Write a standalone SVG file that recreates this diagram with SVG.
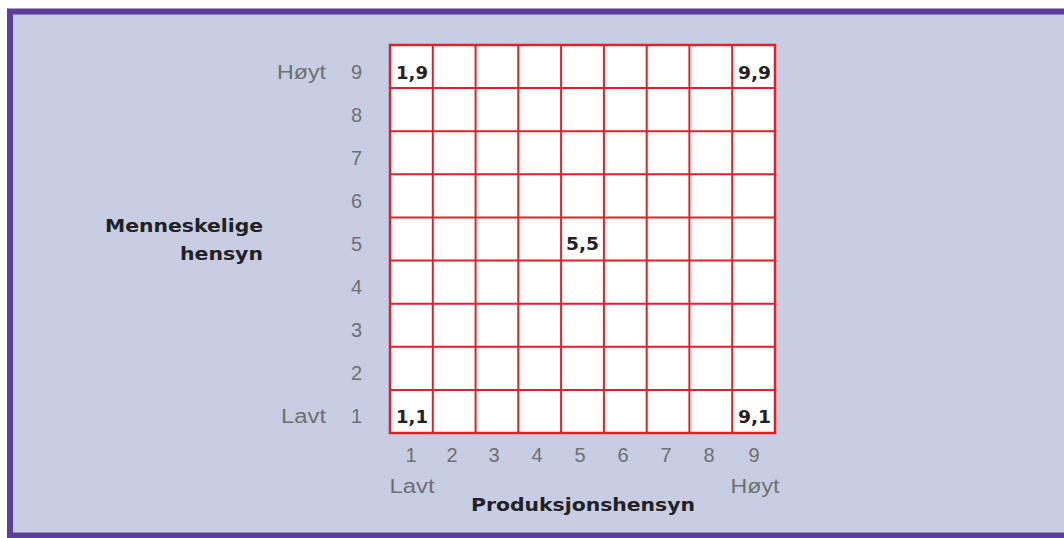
<svg xmlns="http://www.w3.org/2000/svg" width="1064" height="538" viewBox="0 0 1064 538">
<style>
.num{font-family:"Liberation Sans",Arial,sans-serif;font-size:20px;fill:#707070}
.lbl{font-family:"Liberation Sans",Arial,sans-serif;font-size:20px;fill:#707070}
.b{font-family:"DejaVu Sans","Liberation Sans",sans-serif;font-size:18px;font-weight:bold;fill:#222}
.grid{stroke:#e0202a;stroke-width:2;fill:none}
</style>
<rect x="0" y="0" width="1064" height="538" fill="#ffffff"/>
<rect x="10" y="11.5" width="1060" height="524" fill="#c7cde2" stroke="#5c3d9c" stroke-width="6"/>
<g id="grid">
<rect x="390" y="45" width="385" height="388" fill="#ffffff"/>
<g class="grid">
<rect x="390" y="45" width="385" height="388" stroke-width="2.5"/>
<path d="M432.8 45V433M475.6 45V433M518.3 45V433M561.1 45V433M603.9 45V433M646.7 45V433M689.4 45V433M732.2 45V433"/>
<path d="M390 88.1H775M390 131.2H775M390 174.3H775M390 217.4H775M390 260.6H775M390 303.7H775M390 346.8H775M390 389.9H775"/>
</g>
</g>
<g id="cells">
<text class="b" x="396" y="79" textLength="32" lengthAdjust="spacingAndGlyphs">1,9</text>
<text class="b" x="738" y="79" textLength="33" lengthAdjust="spacingAndGlyphs">9,9</text>
<text class="b" x="566" y="250" textLength="33" lengthAdjust="spacingAndGlyphs">5,5</text>
<text class="b" x="396" y="423" textLength="32" lengthAdjust="spacingAndGlyphs">1,1</text>
<text class="b" x="738" y="423" textLength="33" lengthAdjust="spacingAndGlyphs">9,1</text>
</g>
<g id="yaxis" text-anchor="end">
<text class="num" x="362" y="79">9</text>
<text class="num" x="362" y="122">8</text>
<text class="num" x="362" y="165">7</text>
<text class="num" x="362" y="208">6</text>
<text class="num" x="362" y="251">5</text>
<text class="num" x="362" y="294">4</text>
<text class="num" x="362" y="337">3</text>
<text class="num" x="362" y="380">2</text>
<text class="num" x="362" y="423">1</text>
<text class="lbl" x="326" y="79" textLength="49" lengthAdjust="spacingAndGlyphs">Høyt</text>
<text class="lbl" x="326" y="423" textLength="45" lengthAdjust="spacingAndGlyphs">Lavt</text>
<text class="b" x="263" y="232" textLength="158" lengthAdjust="spacingAndGlyphs">Menneskelige</text>
<text class="b" x="263" y="260" textLength="83" lengthAdjust="spacingAndGlyphs">hensyn</text>
</g>
<g id="xaxis" text-anchor="middle">
<text class="num" x="411" y="462">1</text>
<text class="num" x="452" y="462">2</text>
<text class="num" x="494" y="462">3</text>
<text class="num" x="537" y="462">4</text>
<text class="num" x="580" y="462">5</text>
<text class="num" x="623" y="462">6</text>
<text class="num" x="666" y="462">7</text>
<text class="num" x="709" y="462">8</text>
<text class="num" x="754" y="462">9</text>
<text class="lbl" x="412" y="493" textLength="45" lengthAdjust="spacingAndGlyphs">Lavt</text>
<text class="lbl" x="755" y="493" textLength="49" lengthAdjust="spacingAndGlyphs">Høyt</text>
<text class="b" x="583" y="511" textLength="224" lengthAdjust="spacingAndGlyphs">Produksjonshensyn</text>
</g>
</svg>
